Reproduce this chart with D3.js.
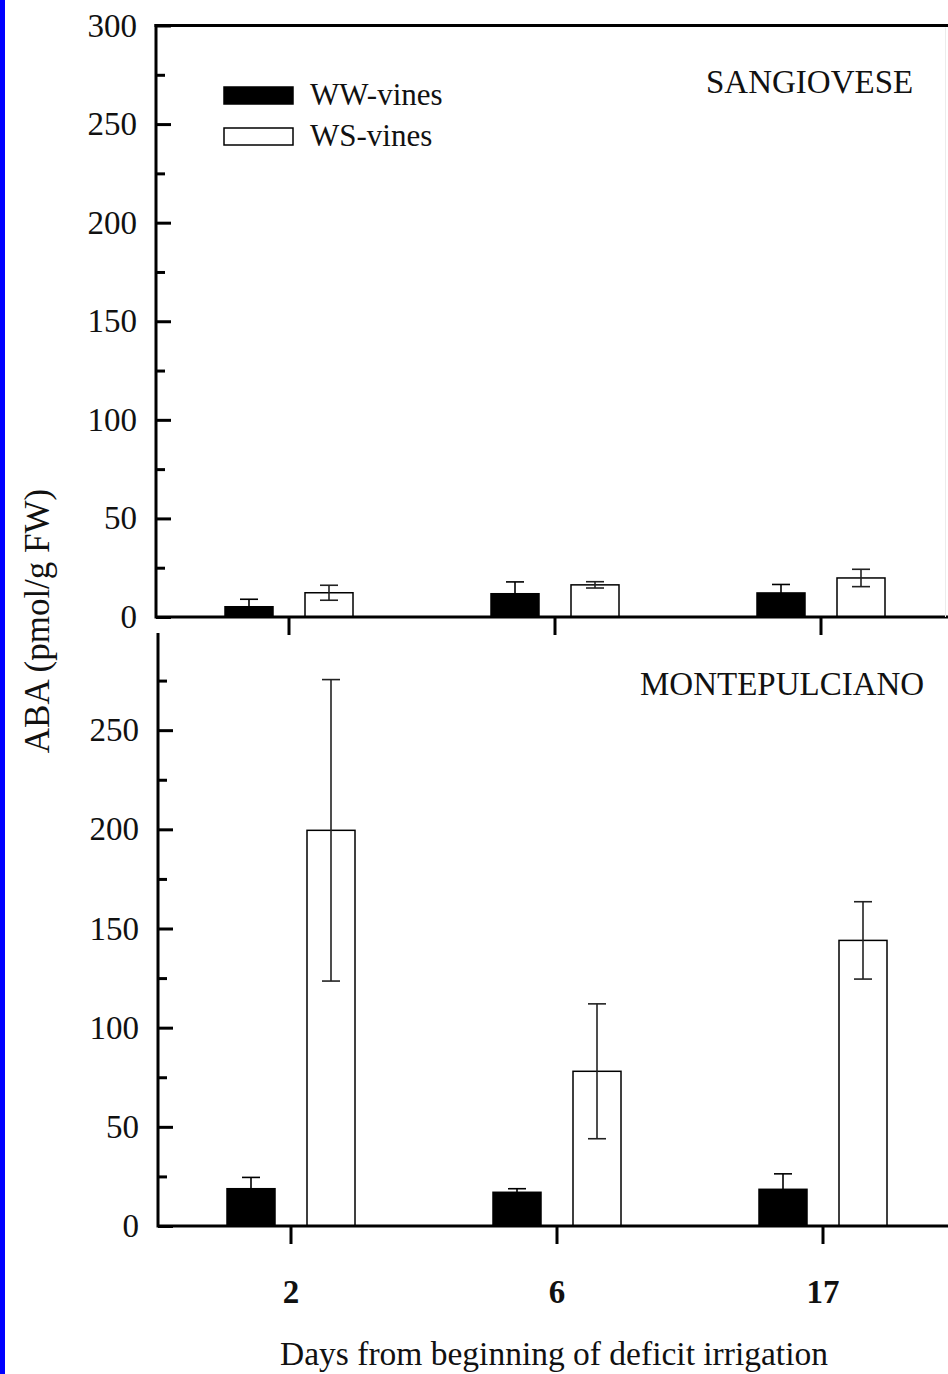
<!DOCTYPE html>
<html>
<head>
<meta charset="utf-8">
<script src="https://cdn.jsdelivr.net/npm/d3@7"></script>
<style>
  body { margin: 0; background: #fff; }
  svg { display: block; }
  text { font-family: "Liberation Serif", "Times New Roman", serif; fill: #111; }
</style>
</head>
<body>
<svg id="chart" width="948" height="1374"></svg>
<script>
// days from beginning of deficit irrigation
const days = ['2', '6', '17'];
const series = ['WW', 'WS'];

// ABA, pmol/g FW (mean and error)
const sangioveseWW = [5.2, 11.8, 12.2];
const sangioveseWWErr = [3.8, 6.0, 4.3];
const sangioveseWS = [12.3, 16.3, 19.8];
const sangioveseWSErr = [3.8, 1.6, 4.4];

const montepulcianoWW = [18.8, 17.0, 18.5];
const montepulcianoWWErr = [5.7, 1.8, 7.8];
const montepulcianoWS = [199.5, 78.0, 144.0];
const montepulcianoWSErr = [76.0, 34.0, 19.5];

const majorTicks = [0, 50, 100, 150, 200, 250, 300];
const minorTicks = [25, 75, 125, 175, 225, 275];

const W = 948, H = 1374;
const svg = d3.select('#chart');

// blue strip on the left
svg.append('rect').attr('x', 0).attr('y', 0).attr('width', 5).attr('height', H).attr('fill', '#0000ff');

const sub = d3.scaleBand().domain(series).range([-64, 64]).paddingInner(0.4).paddingOuter(0);

function panel(opts) {
  const x = d3.scaleBand().domain(days).range([opts.left, opts.left + 798]);
  const y = d3.scaleLinear().domain([0, 300]).range([opts.bottom, opts.top]);
  const g = svg.append('g');

  const rows = days.map((d, i) => ({
    day: d,
    vals: [
      { s: 'WW', v: opts.ww[i], e: opts.wwErr[i] },
      { s: 'WS', v: opts.ws[i], e: opts.wsErr[i] }
    ]
  }));

  const grp = g.selectAll('.grp').data(rows).enter().append('g')
    .attr('transform', d => `translate(${x(d.day) + x.bandwidth() / 2},0)`);

  // bars
  grp.selectAll('rect').data(d => d.vals).enter().append('rect')
    .attr('x', d => sub(d.s))
    .attr('width', sub.bandwidth())
    .attr('y', d => y(d.v))
    .attr('height', d => y(0) - y(d.v))
    .attr('fill', d => d.s === 'WW' ? '#000' : '#fff')
    .attr('stroke', '#000')
    .attr('stroke-width', 1.5);

  // error bars (the lower half of WW is hidden inside the black bar)
  const lo = d => d.s === 'WW' ? d.v : d.v - d.e;
  const eb = grp.selectAll('.eb').data(d => d.vals).enter().append('g')
    .attr('stroke', d => d.s === 'WW' ? '#000' : '#222').attr('stroke-width', 1.6);
  const cx = d => sub(d.s) + sub.bandwidth() / 2;
  eb.append('line').attr('x1', cx).attr('x2', cx)
    .attr('y1', d => y(lo(d))).attr('y2', d => y(d.v + d.e));
  eb.append('line').attr('x1', d => cx(d) - 9).attr('x2', d => cx(d) + 9)
    .attr('y1', d => y(d.v + d.e)).attr('y2', d => y(d.v + d.e));
  eb.filter(d => d.s === 'WS').append('line')
    .attr('x1', d => cx(d) - 9).attr('x2', d => cx(d) + 9)
    .attr('y1', d => y(d.v - d.e)).attr('y2', d => y(d.v - d.e));

  // y axis: major ticks with labels, ticks pointing inward
  const yAxis = d3.axisLeft(y).tickValues(opts.labels).tickSize(-15).tickPadding(19);
  const ya = g.append('g').attr('transform', `translate(${opts.left},0)`).call(yAxis);
  ya.select('.domain').remove();
  ya.selectAll('line').attr('stroke', '#000').attr('stroke-width', 3);
  ya.selectAll('text').style('font-size', '33px').attr('fill', '#111');

  const yMinor = d3.axisLeft(y).tickValues(minorTicks).tickSize(-9).tickFormat('');
  const ym = g.append('g').attr('transform', `translate(${opts.left},0)`).call(yMinor);
  ym.select('.domain').remove();
  ym.selectAll('line').attr('stroke', '#000').attr('stroke-width', 3);

  // x axis ticks
  const xAxis = d3.axisBottom(x).tickSize(18).tickSizeOuter(0).tickPadding(36);
  const xa = g.append('g').attr('transform', `translate(0,${opts.bottom})`).call(xAxis);
  xa.select('.domain').remove();
  xa.selectAll('line').attr('stroke', '#000').attr('stroke-width', 3);
  if (opts.xLabels) {
    xa.selectAll('text').style('font-size', '33px').style('font-weight', 'bold').attr('fill', '#111');
  } else {
    xa.selectAll('text').remove();
  }

  // frame lines
  g.append('line').attr('x1', opts.left).attr('x2', opts.left)
    .attr('y1', opts.frameTop).attr('y2', opts.bottom + 1.5)
    .attr('stroke', '#000').attr('stroke-width', 3);
  g.append('line').attr('x1', opts.left).attr('x2', W)
    .attr('y1', opts.bottom).attr('y2', opts.bottom)
    .attr('stroke', '#000').attr('stroke-width', 3);
  if (opts.topLine) {
    g.append('line').attr('x1', opts.left - 1.5).attr('x2', W)
      .attr('y1', opts.top).attr('y2', opts.top)
      .attr('stroke', '#000').attr('stroke-width', 3);
    g.append('line').attr('x1', 945.5).attr('x2', 945.5)
      .attr('y1', opts.top + 2).attr('y2', opts.bottom)
      .attr('stroke', '#ececec').attr('stroke-width', 1);
  }

  g.append('text').attr('x', opts.nameX).attr('y', opts.nameY)
    .style('font-size', '33px').text(opts.name);
}

panel({
  left: 156, top: 25.5, bottom: 617, frameTop: 24,
  ww: sangioveseWW, wwErr: sangioveseWWErr, ws: sangioveseWS, wsErr: sangioveseWSErr,
  labels: majorTicks, xLabels: false, topLine: true,
  name: 'SANGIOVESE', nameX: 706, nameY: 93
});

panel({
  left: 158, top: 631, bottom: 1226, frameTop: 633,
  ww: montepulcianoWW, wwErr: montepulcianoWWErr, ws: montepulcianoWS, wsErr: montepulcianoWSErr,
  labels: majorTicks.filter(t => t < 300), xLabels: true, topLine: false,
  name: 'MONTEPULCIANO', nameX: 640, nameY: 695
});

// legend
const legend = svg.append('g');
const legendItems = [{ s: 'WW', label: 'WW-vines' }, { s: 'WS', label: 'WS-vines' }];
legendItems.forEach((d, i) => {
  legend.append('rect')
    .attr('x', 224).attr('y', 87 + i * 41).attr('width', 69).attr('height', 17)
    .attr('fill', d.s === 'WW' ? '#000' : '#fff')
    .attr('stroke', '#000').attr('stroke-width', 1.5);
  legend.append('text').attr('x', 310).attr('y', 105 + i * 41)
    .style('font-size', '31px').text(d.label);
});

// axis titles
svg.append('text')
  .attr('transform', 'translate(49,621) rotate(-90)')
  .attr('text-anchor', 'middle')
  .style('font-size', '35px')
  .text('ABA (pmol/g FW)');

svg.append('text')
  .attr('x', 554).attr('y', 1365)
  .attr('text-anchor', 'middle')
  .style('font-size', '33.5px')
  .text('Days from beginning of deficit irrigation');
</script>
</body>
</html>
